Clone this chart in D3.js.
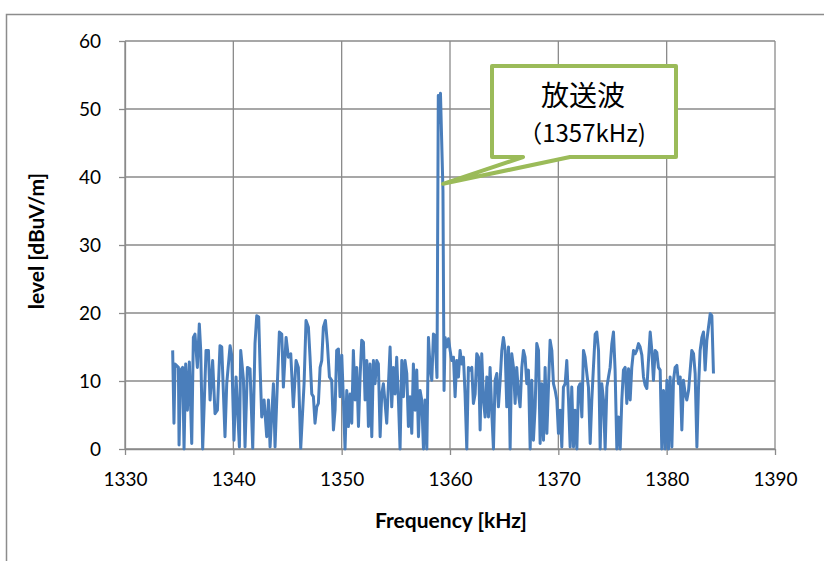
<!DOCTYPE html>
<html>
<head>
<meta charset="utf-8">
<script src="https://cdn.jsdelivr.net/npm/d3@7"></script>
<style>
body { margin: 0; background: #fff; }
svg { display: block; }
</style>
</head>
<body>
<div id="chart"></div>
<script>
var freqs = [
	1334.40,1334.52,1334.62,1334.93,1334.99,1335.14,1335.32,1335.45,1335.60,1335.76,1335.94,1336.16,1336.31,1336.46,1336.68,1336.86,1336.99,1337.17,1337.48,1337.70,
	1337.85,1338.09,1338.31,1338.53,1338.77,1338.93,1339.23,1339.39,1339.70,1339.85,1340.06,1340.25,1340.56,1340.68,1340.93,1341.08,1341.30,1341.54,1341.79,1342.00,
	1342.16,1342.34,1342.47,1342.62,1342.84,1343.08,1343.24,1343.39,1343.70,1343.85,1344.07,1344.25,1344.47,1344.62,1344.87,1345.08,1345.30,1345.54,1345.79,1346.00,
	1346.22,1346.53,1346.71,1346.93,
	1347.08,1347.24,1347.39,1347.54,1347.70,1347.85,1348.01,1348.16,1348.31,1348.50,1348.68,1348.87,1349.08,1349.24,1349.39,1349.54,1349.70,1349.85,1350.01,1350.16,
	1350.31,1350.47,1350.62,1350.78,1350.93,1351.08,1351.24,1351.39,1351.55,1351.70,1351.85,1352.01,1352.16,1352.32,1352.47,1352.62,1352.78,1352.93,1353.08,1353.24,
	1353.39,1353.55,1353.70,1353.85,1354.01,1354.16,1354.32,1354.47,1354.62,1354.78,1354.93,1355.08,1355.24,1355.39,1355.55,1355.70,1355.85,1356.01,1356.16,1356.32,
	1356.47,1356.62,1356.78,1356.93,1357.09,1357.24,1357.39,1357.55,1357.70,1357.86,1358.01,1358.16,1358.32,1358.47,1358.62,
	1358.80,1358.92,1359.02,1359.12,1359.35,1359.45,
	1359.55,1359.70,1359.86,1360.01,1360.16,1360.32,1360.47,1360.62,1360.78,1360.93,1361.09,1361.24,1361.39,1361.55,1361.70,1361.86,1362.01,1362.16,1362.32,1362.47,
	1362.63,1362.78,1362.93,1363.09,1363.24,1363.40,1363.55,1363.70,1363.86,1364.01,1364.16,1364.32,1364.47,1364.63,1364.78,1364.93,1365.09,1365.24,1365.40,1365.55,
	1365.70,1365.86,1366.01,1366.16,1366.32,1366.47,1366.63,1366.78,1366.93,1367.09,1367.24,1367.40,1367.55,1367.70,1367.86,1368.01,1368.17,1368.32,1368.47,1368.63,
	1368.78,1368.94,1369.09,1369.24,1369.40,1369.55,1369.71,1369.86,1370.01,1370.17,1370.32,1370.47,1370.63,1370.78,1370.94,1371.09,1371.24,1371.40,1371.55,1371.71,
	1371.86,
	1372.01,1372.17,1372.32,1372.47,1372.63,1372.78,1372.94,1373.09,1373.24,1373.40,1373.55,1373.71,1373.86,1374.01,1374.17,1374.32,1374.48,1374.63,1374.78,1374.94,
	1375.09,1375.24,1375.40,1375.55,1375.71,1375.86,1376.01,1376.17,1376.32,1376.48,1376.63,1376.78,1376.94,1377.09,1377.24,1377.40,1377.55,1377.71,1377.86,1378.01,
	1378.17,1378.32,1378.48,1378.63,1378.78,1378.94,1379.09,1379.24,1379.40,1379.55,1379.71,1379.86,1380.02,1380.17,1380.32,1380.48,1380.63,1380.78,1380.94,1381.09,
	1381.25,1381.40,1381.55,1381.71,1381.86,1382.02,1382.17,1382.32,1382.48,1382.63,1382.79,1382.94,1383.09,1383.25,1383.40,1383.55,1383.71,1383.86,1384.02,1384.17,
	1384.32
];

var levels = [
	14.5,3.8,12.5,12.0,0.6,11.6,12.0,0,12.5,5.7,12.8,0.8,16.4,16.9,12.0,18.4,14.5,0,14.5,14.5,
	7.2,13.0,5.2,5.7,15.2,15.0,1.8,9.6,15.2,13.8,1.3,10.6,0.3,14.5,10.3,0.3,12.0,11.8,0.1,15.5,
	19.6,19.4,12.0,4.7,7.2,1.8,7.2,0.3,9.6,0.3,9.9,17.2,16.9,9.1,16.4,13.5,14.0,6.2,13.0,12.0,
	0.1,9.6,18.9,17.9,
	13.5,8.1,7.7,3.8,6.2,6.7,12.0,13.0,17.9,18.9,15.5,10.6,10.1,2.8,5.7,14.5,14.7,7.7,13.8,7.2,
	0,8.6,3.3,8.1,3.8,14.5,7.2,12.0,3.3,10.6,16.0,15.7,7.2,13.0,3.3,12.5,1.8,13.0,9.6,13.0,
	12.5,1.8,8.1,9.6,6.7,3.8,9.6,15.0,6.2,12.0,8.1,13.5,7.2,0,13.0,7.7,13.0,11.1,3.3,7.7,
	2.3,12.5,5.7,11.6,1.8,8.6,7.2,0,7.2,0,16.4,12.0,10.1,16.9,16.7,
	10.5,52.0,48.0,52.3,38.0,8.6,
	16.4,15.0,16.2,14.5,13.0,13.5,7.7,13.0,10.6,14.5,12.5,13.5,8.1,0,12.0,11.6,12.0,6.7,8.1,14.0,
	13.5,2.8,14.0,7.2,4.7,10.6,4.7,12.0,5.2,0,10.1,11.1,6.2,10.1,14.5,16.4,14.5,6.2,15.0,0,
	14.0,12.0,6.7,12.0,8.1,6.2,12.0,14.5,13.5,9.6,11.6,0,10.1,1.3,6.2,15.5,14.5,0.8,9.6,1.3,
	12.0,2.3,9.1,16.0,14.5,9.6,8.6,7.2,2.3,5.7,0.3,9.1,9.6,13.0,7.2,0.3,9.1,0.3,5.7,0,
	9.1,
	9.6,4.7,14.5,13.5,11.1,9.1,0.8,7.2,12.0,16.9,17.2,14.5,0,9.6,7.2,0,9.1,10.6,12.0,15.5,
	17.2,11.6,0,4.7,0,7.2,11.6,12.0,6.7,11.8,7.2,12.0,14.5,14.0,14.5,15.5,15.0,13.8,10.6,9.4,
	8.9,13.0,17.2,14.5,10.1,14.5,14.2,12.0,11.6,0,8.6,0,10.1,0,10.6,0.3,10.1,12.0,12.3,9.6,
	10.6,2.8,10.1,8.1,7.2,8.6,11.6,14.5,14.0,11.1,0.3,9.1,14.5,16.4,17.2,11.6,16.0,17.9,19.9,19.6,
	11.1
];

var xTicks = [1330, 1340, 1350, 1360, 1370, 1380, 1390];
var yTicks = [0, 10, 20, 30, 40, 50, 60];

var calloutTitle = "放送波";
var calloutSub = "（1357kHz)";
var calloutAt = [1359.36, 39];

var W = 824, H = 561;
var margin = {top: 41, right: 49, bottom: 112, left: 125},
	width = W - margin.left - margin.right,
	height = H - margin.top - margin.bottom;

var GRID = "#8a8a8a";
var LINE_COLOR = "#4a7ebb";
var CALLOUT_COLOR = "#9bbb59";

var root = d3.select("#chart")
	.append("svg")
	.attr("width", W)
	.attr("height", H);

// chart frame (runs off the right and bottom edges)
root.append("rect")
	.attr("x", 6.5)
	.attr("y", 14.5)
	.attr("width", W + 20)
	.attr("height", H + 20)
	.attr("fill", "none")
	.attr("stroke", "#8c8c8c")
	.attr("stroke-width", 1.5);

var svg = root.append("g")
	.attr("transform", "translate(" + margin.left + "," + margin.top + ")");

var x = d3.scaleLinear().domain([1330, 1390]).range([0, width]);
var y = d3.scaleLinear().domain([0, 60]).range([height, 0]);

// grid
svg.append("g")
	.selectAll("line")
	.data(xTicks)
	.enter()
	.append("line")
	.attr("x1", d => x(d)).attr("x2", d => x(d))
	.attr("y1", 0).attr("y2", height)
	.attr("stroke", GRID)
	.attr("stroke-width", 1.3);

svg.append("g")
	.selectAll("line")
	.data(yTicks)
	.enter()
	.append("line")
	.attr("x1", 0).attr("x2", width)
	.attr("y1", d => y(d)).attr("y2", d => y(d))
	.attr("stroke", GRID)
	.attr("stroke-width", 1.3);

// axes
var xAxis = svg.append("g")
	.attr("transform", "translate(0," + height + ")")
	.call(d3.axisBottom(x)
		.tickValues(xTicks)
		.tickFormat(d3.format("d"))
		.tickSizeInner(6)
		.tickSizeOuter(0)
		.tickPadding(18));

var yAxis = svg.append("g")
	.call(d3.axisLeft(y)
		.tickValues(yTicks)
		.tickSizeInner(6)
		.tickSizeOuter(0)
		.tickPadding(18));

[xAxis, yAxis].forEach(function(a) {
	a.select(".domain").attr("stroke", GRID).attr("stroke-width", 1.3);
	a.selectAll(".tick line").attr("stroke", GRID).attr("stroke-width", 1.3);
	a.selectAll("text")
		.attr("font-family", "Lato, 'Open Sans', sans-serif")
		.style("font-size", "19px")
		.attr("fill", "#000");
});

// axis titles
svg.append("text")
	.attr("x", width / 2 + 1)
	.attr("y", height + 79)
	.attr("text-anchor", "middle")
	.attr("font-family", "Lato, 'Open Sans', sans-serif")
	.attr("font-weight", "bold")
	.style("font-size", "21px")
	.text("Frequency [kHz]");

svg.append("text")
	.attr("transform", "translate(" + (-81) + "," + (height / 2 - 4) + ")rotate(-90)")
	.attr("text-anchor", "middle")
	.attr("font-family", "Lato, 'Open Sans', sans-serif")
	.attr("font-weight", "bold")
	.style("font-size", "21px")
	.text("level [dBuV/m]");

// the trace
var pts = freqs.map((f, i) => [f, levels[i]]);
var line = d3.line()
	.x(d => x(d[0]))
	.y(d => y(d[1]));

svg.append("path")
	.datum(pts)
	.attr("d", line)
	.attr("fill", "none")
	.attr("stroke", LINE_COLOR)
	.attr("stroke-width", 3)
	.attr("stroke-linejoin", "round");

// callout box with pointer
var bx0 = 367, by0 = 25, bx1 = 551, by1 = 116;
var tip = [x(calloutAt[0]), y(calloutAt[1])];
var pathStr = "M" + bx0 + "," + by0 +
	"L" + bx1 + "," + by0 +
	"L" + bx1 + "," + by1 +
	"L" + (bx0 + 78) + "," + by1 +
	"L" + tip[0] + "," + tip[1] +
	"L" + (bx0 + 31) + "," + by1 +
	"L" + bx0 + "," + by1 + "Z";

svg.append("path")
	.attr("d", pathStr)
	.attr("fill", "#fff")
	.attr("stroke", CALLOUT_COLOR)
	.attr("stroke-width", 4)
	.attr("stroke-linejoin", "round");

svg.append("text")
	.attr("x", (bx0 + bx1) / 2 - 1)
	.attr("y", by0 + 40)
	.attr("text-anchor", "middle")
	.attr("font-family", "'Noto Sans CJK JP', sans-serif")
	.style("font-size", "28px")
	.text(calloutTitle);

svg.append("text")
	.attr("x", (bx0 + bx1) / 2 - 2)
	.attr("y", by0 + 76)
	.attr("text-anchor", "middle")
	.attr("font-family", "'Noto Sans CJK JP', sans-serif")
	.style("font-size", "24px")
	.text(calloutSub);
</script>
</body>
</html>
